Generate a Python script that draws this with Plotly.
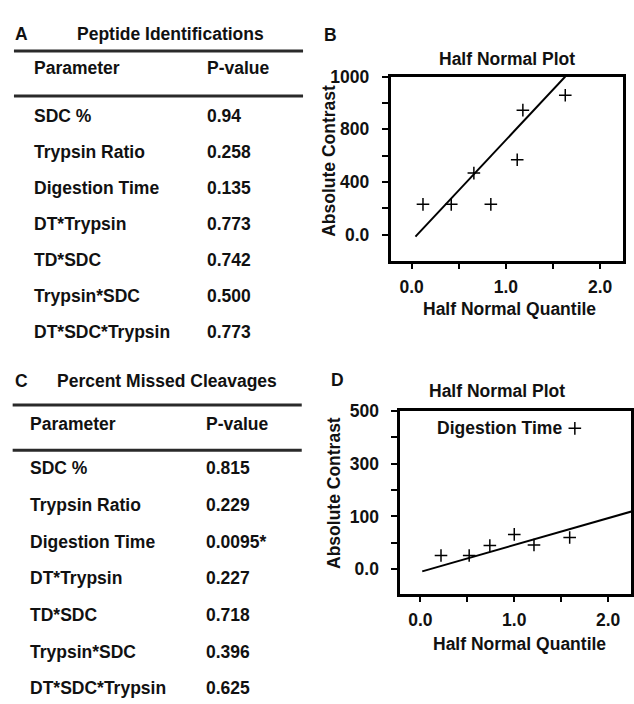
import plotly.graph_objects as go

W, H = 634, 704

# ---------------- data ----------------
pep_title = "Peptide Identifications"
mc_title = "Percent Missed Cleavages"
header = ["Parameter", "P-value"]
parameters = ["SDC %", "Trypsin Ratio", "Digestion Time", "DT*Trypsin",
              "TD*SDC", "Trypsin*SDC", "DT*SDC*Trypsin"]
pep_pvalues = ["0.94", "0.258", "0.135", "0.773", "0.742", "0.500", "0.773"]
mc_pvalues = ["0.815", "0.229", "0.0095*", "0.227", "0.718", "0.396", "0.625"]

# half normal plot B (peptide identifications)
b_quantile = [0.12, 0.42, 0.66, 0.84, 1.12, 1.18, 1.63]
b_contrast = [230, 230, 467, 230, 568, 945, 1058]
b_fit_x = [0.04, 1.63]
b_fit_y = [-15, 1200]
b_ytickvals = [0, 200, 400, 600, 800, 1000, 1200]
b_yticktext = ["0.0", "", "400", "", "800", "", "1000"]

# half normal plot D (missed cleavages)
d_quantile = [0.22, 0.52, 0.74, 1.00, 1.21, 1.59, 1.645]
d_contrast = [26, 26, 45, 66, 46, 60, 267]
d_fit_x = [0.02, 2.26]
d_fit_y = [-4, 110]
d_label = "Digestion Time"
d_ytickvals = [0, 50, 100, 150, 200, 250, 300]
d_yticktext = ["0.0", "", "100", "", "300", "", "500"]

xtickvals = [0, 0.5, 1.0, 1.5, 2.0]
xticktext = ["0.0", "", "1.0", "", "2.0"]

# ---------------- helpers ----------------
def px(x):
    return x / W

def py(y):
    return 1 - y / H

FONT = "Liberation Sans, Arial, sans-serif"
TXT = "#111111"
FS = 17.5

fig = go.Figure()

marker = dict(symbol="cross-thin", size=9, line=dict(width=1.5, color="black"), color="black")

fig.add_trace(go.Scatter(x=b_fit_x, y=b_fit_y, mode="lines", line=dict(color="black", width=2),
                         xaxis="x", yaxis="y", showlegend=False, hoverinfo="skip"))
fig.add_trace(go.Scatter(x=b_quantile, y=b_contrast, mode="markers", marker=marker,
                         xaxis="x", yaxis="y", showlegend=False))
fig.add_trace(go.Scatter(x=d_fit_x, y=d_fit_y, mode="lines", line=dict(color="black", width=2),
                         xaxis="x2", yaxis="y2", showlegend=False, hoverinfo="skip"))
fig.add_trace(go.Scatter(x=d_quantile, y=d_contrast, mode="markers", marker=marker,
                         xaxis="x2", yaxis="y2", showlegend=False))

axis_common = dict(showgrid=False, zeroline=False, showline=True, linecolor="black",
                   linewidth=3, mirror=True, ticks="outside", tickwidth=2,
                   tickcolor="black", tickfont=dict(family=FONT, size=FS, color=TXT),
                   tickmode="array")

def bold(lst):
    return [f"<b>{t}</b>" if t else "" for t in lst]

fig.update_layout(
    width=W, height=H, margin=dict(l=0, r=0, t=0, b=0),
    paper_bgcolor="white", plot_bgcolor="white",
    font=dict(family=FONT, size=FS, color=TXT),
    xaxis=dict(domain=[px(392), px(625)], anchor="y", range=[-0.222, 2.243],
               tickvals=xtickvals, ticktext=bold(xticktext),
               ticklen=5, ticklabelstandoff=3, **axis_common),
    yaxis=dict(domain=[py(255), py(67.5)], anchor="x", range=[-203, 1200],
               tickvals=b_ytickvals, ticktext=bold(b_yticktext),
               ticklen=6, ticklabelstandoff=9, **axis_common),
    xaxis2=dict(domain=[px(401.7), px(633)], anchor="y2", range=[-0.212, 2.243],
                tickvals=xtickvals, ticktext=bold(xticktext),
                ticklen=5, ticklabelstandoff=3, **axis_common),
    yaxis2=dict(domain=[py(592.3), py(406.7)], anchor="x2", range=[-46.7, 300],
                tickvals=d_ytickvals, ticktext=bold(d_yticktext),
                ticklen=6, ticklabelstandoff=9, **axis_common),
)

ann = []

def text(x, y, s, xanchor="left", angle=0, size=FS):
    ann.append(dict(x=px(x), y=py(y), xref="paper", yref="paper", text=f"<b>{s}</b>",
                    showarrow=False, xanchor=xanchor, yanchor="middle", textangle=angle,
                    font=dict(family=FONT, size=size, color=TXT)))

shapes = []

def hline(x0, x1, y):
    shapes.append(dict(type="line", xref="paper", yref="paper", x0=px(x0), x1=px(x1),
                       y0=py(y), y1=py(y), line=dict(color="#2a2a2a", width=3)))

# ---- table A ----
text(13, 24, "A")
text(75, 24, pep_title)
hline(14, 304, 41.7)
text(31.7, 59.3, header[0])
text(205.7, 59.3, header[1])
hline(14, 304, 87.3)
for i, (p, v) in enumerate(zip(parameters, pep_pvalues)):
    yy = 107.5 + i * 36.5
    text(31.7, yy, p)
    text(205.7, yy, v)

# ---- table C ----
text(13, 376, "C")
text(55, 376, mc_title)
hline(12.7, 302.7, 400.7)
text(28.3, 420, header[0])
text(205, 420, header[1])
hline(12.7, 302.7, 446.7)
for i, (p, v) in enumerate(zip(parameters, mc_pvalues)):
    yy = 465 + i * 37.2
    text(28.3, yy, p)
    text(205, yy, v)

# ---- plot B labels ----
text(323, 25, "B")
text(508.3, 49.3, "Half Normal Plot", xanchor="center")
text(330, 153, "Absolute Contrast", xanchor="center", angle=-90)
text(510.8, 303, "Half Normal Quantile", xanchor="center")

# ---- plot D labels ----
text(330, 375, "D")
text(498.7, 386.7, "Half Normal Plot", xanchor="center")
text(335, 490, "Absolute Contrast", xanchor="center", angle=-90)
text(520.7, 643.3, "Half Normal Quantile", xanchor="center")
ann.append(dict(x=d_quantile[-1], y=d_contrast[-1], xref="x2", yref="y2",
                text=f"<b>{d_label}</b>", showarrow=False, xanchor="right", yanchor="middle",
                xshift=-11, font=dict(family=FONT, size=FS, color=TXT)))

fig.update_layout(annotations=ann, shapes=shapes)

post = ("document.documentElement.style.margin='0';document.body.style.margin='0';"
        "document.body.style.padding='0';document.body.style.overflow='hidden';"
        "var gd=document.getElementById('{plot_id}');gd.style.position='fixed';"
        "gd.style.top='0px';gd.style.left='0px';gd.style.margin='0';")
fig.write_html("out.html", post_script=post, config={"displayModeBar": False})
